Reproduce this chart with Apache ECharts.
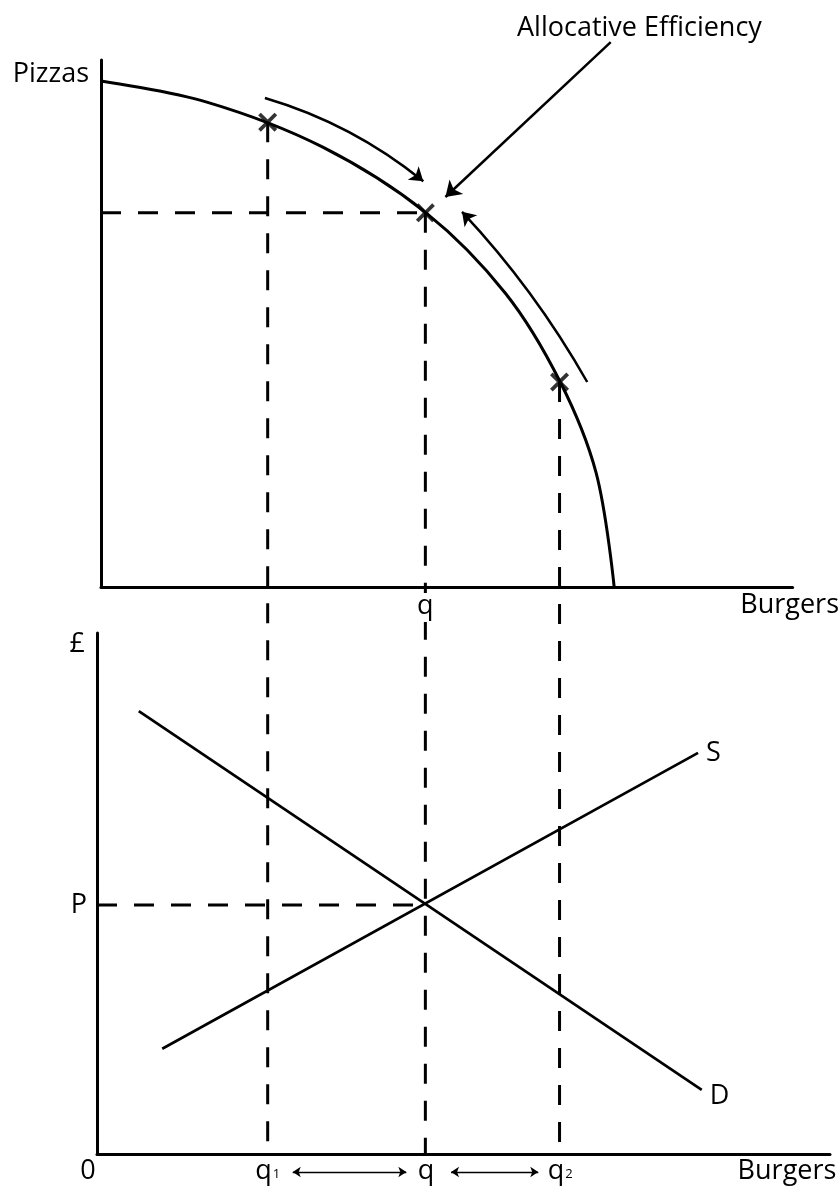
<!DOCTYPE html>
<html lang="en">
<head>
<meta charset="UTF-8">
<title>Allocative Efficiency</title>
<style>
  html, body { margin: 0; padding: 0; background: #fff; }
  #chart { width: 840px; height: 1187px; }
</style>
<script src="https://cdn.jsdelivr.net/npm/echarts@6/dist/echarts.min.js"></script>
</head>
<body>
<div id="chart"></div>
<script>
// top panel: production possibility frontier, both axes 0-100
var ppfX = [0, 15.3, 32.0, 47.0, 58.5, 66.4, 71.6, 74.2];
var ppfY = [96.0, 92.0, 83.5, 71.0, 55.7, 38.9, 21.6, 0];
var markX = [24.1, 46.9, 66.3];   // the three crosses on the curve
var markY = [88.2, 71.0, 38.9];
var topTickValues = [46.9];
var topTickLabels = ['q'];

// curved "movement" arrows and the pointer arrow, [from, to]
var arcDown = [[23.7, 92.8], [46.6, 77.0]];
var arcUp = [[70.3, 38.9], [52.2, 71.2]];
var pointer = [[73.7, 103.4], [49.8, 74.0]];

// bottom panel: market for burgers, both axes 0-100
var demandX = [5.7, 82.5];
var demandY = [85.0, 12.3];
var supplyX = [8.9, 82.0];
var supplyY = [20.2, 77.0];
var priceP = 47.8;
var bottomTickValues = [0, 23.3, 44.9, 63.2];
var bottomTickLabels = ['{z|0}', 'q{s|1}', 'q', 'q{s|2}'];
var gapArrows = [[26.7, 42.2], [48.3, 60.2]];
var arrowRowY = -3.45;

var topGrid = { left: 101, top: 60, width: 693, height: 527 };
var botGrid = { left: 97, top: 633, width: 733, height: 521 };
// level of the lower x axis, in top-panel y units (drop lines run down to it)
var floorY = -((botGrid.top + botGrid.height) - (topGrid.top + topGrid.height)) / topGrid.height * 100;

var FONT = "'Open Sans', sans-serif";
var FS = 27;

function zip(xs, ys) {
    return xs.map(function (x, i) { return [x, ys[i]]; });
}
function pickLabel(values, labels, v) {
    var best = 0;
    values.forEach(function (val, i) {
        if (Math.abs(val - v) < Math.abs(values[best] - v)) best = i;
    });
    return labels[best];
}
function txt(extra) {
    return Object.assign({ fontSize: FS, fontFamily: FONT, color: '#000' }, extra || {});
}

var axisLineStyle = { show: true, onZero: false, lineStyle: { color: '#000', width: 3 } };
var cross = 'path://M0,2.8L2.8,0L10,7.2L17.2,0L20,2.8L12.8,10L20,17.2L17.2,20L10,12.8L2.8,20L0,17.2L7.2,10Z';
var dashed = { color: '#000', width: 3, type: [20, 17] };
var arrowLine = { color: '#000', width: 2.5, type: 'solid', opacity: 1 };

var dropSeries = markX.map(function (x, i) {
    return {
        type: 'line', xAxisIndex: 0, yAxisIndex: 0, clip: false,
        data: [[x, markY[i]], [x, floorY]],
        showSymbol: false, lineStyle: dashed, silent: true, z: 1
    };
});

var myChart = echarts.init(document.getElementById('chart'));
myChart.setOption({
    animation: false,
    backgroundColor: '#fff',
    textStyle: { fontFamily: FONT, color: '#000' },
    title: {
        text: 'Allocative Efficiency',
        left: 517, top: 13, padding: 0,
        textStyle: txt({ fontWeight: 'normal', lineHeight: 30 })
    },
    grid: [topGrid, botGrid],
    xAxis: [{
        gridIndex: 0, type: 'value', min: 0, max: 100, z: 5,
        axisLine: axisLineStyle, axisTick: { show: false }, splitLine: { show: false },
        axisLabel: txt({
            customValues: topTickValues, margin: 6,
            backgroundColor: '#fff', padding: [0, 2, 2, 2],
            formatter: function (v) { return pickLabel(topTickValues, topTickLabels, v); }
        }),
        name: 'Burgers', nameLocation: 'end', nameGap: -3,
        nameTextStyle: txt({ align: 'center', verticalAlign: 'top', padding: [5, 0, 0, 0] })
    }, {
        gridIndex: 1, type: 'value', min: 0, max: 100,
        axisLine: axisLineStyle, axisTick: { show: false }, splitLine: { show: false },
        axisLabel: txt({
            customValues: bottomTickValues, margin: 4,
            formatter: function (v) { return pickLabel(bottomTickValues, bottomTickLabels, v); },
            rich: {
                s: txt({ fontSize: 13, padding: [6, 0, 0, 1] }),
                z: txt({ padding: [0, 18, 0, 0] })
            }
        }),
        name: 'Burgers', nameLocation: 'end', nameGap: -43,
        nameTextStyle: txt({ align: 'center', verticalAlign: 'top', padding: [4, 0, 0, 0] })
    }],
    yAxis: [{
        gridIndex: 0, type: 'value', min: 0, max: 100,
        axisLine: axisLineStyle, axisTick: { show: false }, splitLine: { show: false },
        axisLabel: { show: false },
        name: 'Pizzas', nameLocation: 'end', nameGap: -14,
        nameTextStyle: txt({ align: 'right', verticalAlign: 'middle', padding: [0, 12, 0, 0] })
    }, {
        gridIndex: 1, type: 'value', min: 0, max: 100,
        axisLine: axisLineStyle, axisTick: { show: false }, splitLine: { show: false },
        axisLabel: txt({
            customValues: [priceP], margin: 10,
            formatter: function () { return 'P'; }
        }),
        name: '£', nameLocation: 'end', nameGap: -11,
        nameTextStyle: txt({ align: 'right', verticalAlign: 'middle', padding: [0, 12, 0, 0] })
    }],
    series: dropSeries.concat([{
        // horizontal guide to the efficient point
        type: 'line', xAxisIndex: 0, yAxisIndex: 0, silent: true,
        data: [[0, markY[1]], [markX[1], markY[1]]],
        showSymbol: false, lineStyle: dashed, z: 1
    }, {
        name: 'PPF', type: 'line', xAxisIndex: 0, yAxisIndex: 0,
        data: zip(ppfX, ppfY), smooth: 0.35, showSymbol: false,
        lineStyle: { color: '#000', width: 3 }, z: 3
    }, {
        type: 'scatter', xAxisIndex: 0, yAxisIndex: 0,
        data: zip(markX, markY), symbol: cross, symbolSize: 19,
        itemStyle: { color: '#000' }, z: 4
    }, {
        // pointer from the label to the efficient point
        type: 'lines', coordinateSystem: 'cartesian2d', xAxisIndex: 0, yAxisIndex: 0,
        clip: false, silent: true, symbol: ['none', 'arrow'], symbolSize: 15,
        lineStyle: arrowLine,
        data: [{ coords: pointer }]
    }, {
        // movement along the frontier
        type: 'lines', coordinateSystem: 'cartesian2d', xAxisIndex: 0, yAxisIndex: 0,
        clip: false, silent: true, symbol: ['none', 'arrow'], symbolSize: 13,
        lineStyle: arrowLine,
        data: [
            { coords: arcDown, lineStyle: { curveness: 0.1 } },
            { coords: arcUp, lineStyle: { curveness: -0.06 } }
        ]
    }, {
        type: 'line', xAxisIndex: 1, yAxisIndex: 1, silent: true,
        data: [[0, priceP], [bottomTickValues[2], priceP]],
        showSymbol: false, lineStyle: dashed, z: 1
    }, {
        type: 'lines', coordinateSystem: 'cartesian2d', xAxisIndex: 1, yAxisIndex: 1,
        clip: false, silent: true, symbol: ['arrow', 'arrow'], symbolSize: 8,
        lineStyle: { color: '#000', width: 1.3, type: 'solid', opacity: 1 },
        data: gapArrows.map(function (g) {
            return { coords: [[g[0], arrowRowY], [g[1], arrowRowY]] };
        })
    }, {
        name: 'S', type: 'line', xAxisIndex: 1, yAxisIndex: 1,
        data: zip(supplyX, supplyY), showSymbol: false,
        lineStyle: { color: '#000', width: 2.7 },
        endLabel: txt({ show: true, formatter: '{a}', distance: 8 })
    }, {
        name: 'D', type: 'line', xAxisIndex: 1, yAxisIndex: 1,
        data: zip(demandX, demandY), showSymbol: false,
        lineStyle: { color: '#000', width: 2.7 },
        endLabel: txt({ show: true, formatter: '{a}', distance: 8, offset: [0, 6] })
    }])
});
</script>
</body>
</html>
